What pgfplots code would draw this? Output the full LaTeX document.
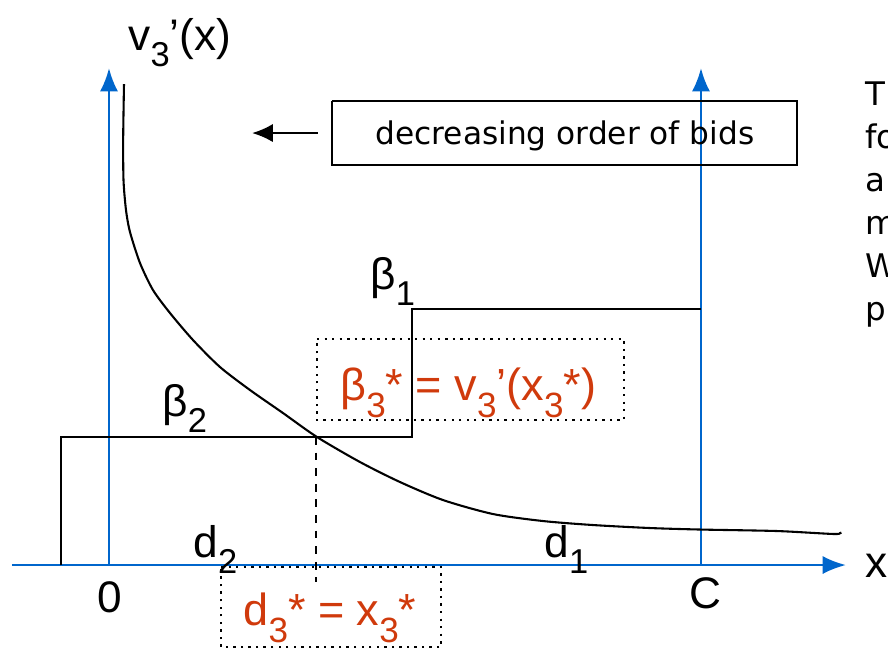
\documentclass[border=0pt]{standalone}
\usepackage{pgfplots}
\pgfplotsset{compat=1.18}
\usepackage{graphicx}
\usepackage{fontspec}
\setmainfont{Liberation Sans}
\newfontfamily\verd{DejaVu Sans}
\usetikzlibrary{arrows.meta}
\definecolor{axblue}{RGB}{0,102,204}
\definecolor{redtxt}{RGB}{208,58,12}
\newcommand\sub[1]{\raisebox{-0.38em}{\scalebox{0.78}{#1}}}
\tikzset{lab/.style={inner sep=0pt, font=\fontsize{17}{20}\selectfont},
         red/.style={inner sep=0pt, anchor=base west, text=redtxt, font=\fontsize{17.3}{20}\selectfont},
         side/.style={inner sep=0pt, anchor=base west, font=\verd\fontsize{12.5}{15}\selectfont}}

\begin{document}
\begin{tikzpicture}
\useasboundingbox (0,0) rectangle (12cm,8.784cm);
\clip (0,0) rectangle (12cm,8.784cm);
\begin{axis}[
    at={(0,0)}, anchor=south west,
    width=12cm, height=8.784cm, scale only axis,
    xmin=0, xmax=888, ymin=0, ymax=650,
    y dir=reverse,
    hide axis, clip=false,
]
% blue axes
\addplot[axblue, line width=1pt, -{Latex[length=9pt,width=7pt]}] coordinates {(12,565) (846,565)};
\addplot[axblue, line width=1pt, -{Latex[length=9pt,width=7pt]}] coordinates {(109,565) (109,68)};
\addplot[axblue, line width=1pt, -{Latex[length=9pt,width=7pt]}] coordinates {(701,565) (701,68)};

% bid steps
\addplot[black, line width=1pt] coordinates {(61,565) (61,437) (412,437) (412,309) (701,309)};

% v3'(x) curve
\addplot[black, line width=0.8pt, smooth, tension=0.45] coordinates {
    (124,84) (123.2,137) (123.5,180) (126,210) (130,232) (140,263) (153,290)
    (170,313) (193,340) (220,367) (250,390) (283,413) (317,437) (360,462)
    (400,482) (443,500) (493,514) (543,521) (593,525) (650,528) (700,529.5)
    (777,531) (835,534) (840,532)};

% dashed drop line
\addplot[black, line width=0.8pt, dashed] coordinates {(316,437) (316,582)};

% dotted boxes
\addplot[black, line width=0.9pt, dotted] coordinates {(317,339) (624,339) (624,420) (317,420) (317,339)};
\addplot[black, line width=0.9pt, dotted] coordinates {(221,567) (441,567) (441,647) (221,647) (221,567)};

% box and arrow
\addplot[black, line width=0.9pt] coordinates {(332,101) (797,101) (797,165) (332,165) (332,101)};
\addplot[black, line width=0.9pt, -{Latex[length=8pt,width=7pt]}] coordinates {(318,133) (252,133)};
\node[anchor=base, inner sep=0pt, font=\verd\fontsize{12}{14}\selectfont] at (axis cs:565,144) {decreasing order of bids};

% labels
\node[lab, anchor=base west] at (axis cs:128,50) {v\sub{3}’(x)};
\node[lab, anchor=base west] at (axis cs:370,289) {β\sub{1}};
\node[lab, anchor=base west] at (axis cs:162,416) {β\sub{2}};
\node[lab, anchor=base west] at (axis cs:193,557) {d\sub{2}};
\node[lab, anchor=base west] at (axis cs:544,557) {d\sub{1}};
\node[lab, anchor=base] at (axis cs:110,612) {0};
\node[lab, anchor=base] at (axis cs:705,608) {C};
\node[lab, anchor=base west] at (axis cs:865,577) {x};

\node[red] at (axis cs:340,400) {β\sub{3}* = v\sub{3}’(x\sub{3}*)};
\node[red] at (axis cs:243,625) {d\sub{3}* = x\sub{3}*};

% side text, cut off at the right edge as in the source
\node[side] at (axis cs:865,105) {T};
\node[side] at (axis cs:865,148) {fo};
\node[side] at (axis cs:865,191) {a};
\node[side] at (axis cs:865,234) {m};
\node[side] at (axis cs:865,277) {W};
\node[side] at (axis cs:865,320) {p};
\end{axis}
\end{tikzpicture}
\end{document}
